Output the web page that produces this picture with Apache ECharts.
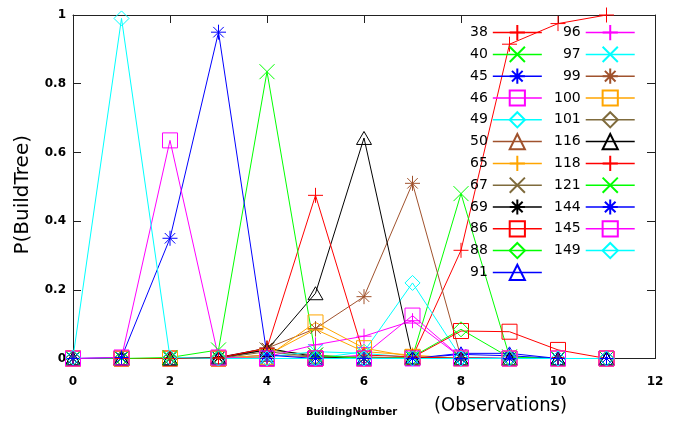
<!DOCTYPE html>
<html>
<head>
<meta charset="utf-8">
<script src="https://cdn.jsdelivr.net/npm/echarts@6/dist/echarts.min.js"></script>
<style>html,body{margin:0;padding:0;background:#fff}#c{width:684px;height:423px}</style>
</head>
<body>
<div id="c"></div>
<script>
// x positions (BuildingNumber observations)
const xValues = [0, 1, 2, 3, 4, 5, 6, 7, 8, 9, 10, 11];
const xTicks = [0, 2, 4, 6, 8, 10, 12];
const yTicks = [0, 0.2, 0.4, 0.6, 0.8, 1];

// series names (legend order)
const names = ['38','40','45','46','49','50','65','67','69','86','88','91',
               '96','97','99','100','101','116','118','121','144','145','149'];

// values per series, at x = 0..11
const s38  = [0, 0, 0, 0, 0, 0, 0, 0.005, 0.315, 0.915, 0.975, 1.0];
const s40  = [0, 0, 0, 0, 0, 0, 0, 0.005, 0.48, 0.005, 0, 0];
const s45  = [0, 0, 0, 0, 0, 0, 0, 0, 0.012, 0.008, 0, 0];
const s46  = [0, 0, 0, 0, 0, 0, 0.01, 0.125, 0.003, 0, 0, 0];
const s49  = [0, 0, 0, 0, 0, 0, 0.02, 0.22, 0.003, 0, 0, 0];
const s50  = [0, 0, 0, 0, 0.01, 0.005, 0, 0, 0, 0, 0, 0];
const s65  = [0, 0, 0, 0, 0.01, 0.085, 0.02, 0.01, 0, 0, 0, 0];
const s67  = [0, 0, 0, 0, 0.025, 0.01, 0, 0, 0, 0, 0, 0];
const s69  = [0, 0, 0, 0.003, 0.03, 0.005, 0, 0, 0, 0, 0, 0];
const s86  = [0, 0, 0, 0, 0, 0, 0, 0.003, 0.08, 0.078, 0.025, 0];
const s88  = [0, 0, 0, 0, 0, 0, 0, 0.005, 0.085, 0.003, 0, 0];
const s91  = [0, 0, 0, 0, 0, 0, 0, 0, 0.015, 0.015, 0, 0];
const s96  = [0, 0, 0, 0, 0.005, 0.04, 0.065, 0.11, 0.003, 0, 0, 0];
const s97  = [0, 0, 0, 0, 0.005, 0.02, 0.015, 0.003, 0, 0, 0, 0];
const s99  = [0, 0, 0, 0, 0.03, 0.087, 0.18, 0.51, 0.003, 0, 0, 0];
const s100 = [0, 0, 0, 0, 0.005, 0.105, 0.03, 0.005, 0, 0, 0, 0];
const s101 = [0, 0, 0, 0, 0.02, 0.005, 0.005, 0, 0, 0, 0, 0];
const s116 = [0, 0, 0, 0.003, 0.025, 0.19, 0.642, 0.003, 0, 0, 0, 0];
const s118 = [0, 0, 0, 0.002, 0.03, 0.475, 0.01, 0.005, 0, 0, 0, 0];
const s121 = [0, 0, 0.003, 0.025, 0.835, 0.01, 0, 0, 0, 0, 0, 0];
const s144 = [0, 0.003, 0.35, 0.95, 0.01, 0, 0, 0, 0, 0, 0, 0];
const s145 = [0, 0.003, 0.635, 0.003, 0, 0, 0, 0, 0, 0, 0, 0];
const s149 = [0.003, 0.99, 0.003, 0, 0, 0, 0, 0, 0, 0, 0, 0];

const values = [s38,s40,s45,s46,s49,s50,s65,s67,s69,s86,s88,s91,
                s96,s97,s99,s100,s101,s116,s118,s121,s144,s145,s149];

const colorCycle = ['#ff0000','#00ff00','#0000ff','#ff00ff','#00ffff','#a0522d','#ffa500','#7f6b3c','#000000'];
const symbolCycle = [
  'path://M5,0L5,10M0,5L10,5',
  'path://M0,0L10,10M10,0L0,10',
  'path://M5,0L5,10M0,5L10,5M1.5,1.5L8.5,8.5M8.5,1.5L1.5,8.5',
  'path://M0,0L10,0L10,10L0,10Z',
  'path://M5,0L10,5L5,10L0,5Z',
  'path://M5,0L10,8.66L0,8.66Z'
];

const series = names.map((n, i) => {
  const c = colorCycle[i % colorCycle.length];
  return {
    name: n,
    type: 'line',
    data: xValues.map((x, k) => [x, values[i][k]]),
    symbol: symbolCycle[i % symbolCycle.length],
    symbolSize: 15,
    symbolKeepAspect: true,
    showAllSymbol: true,
    animation: false,
    lineStyle: { color: c, width: 1 },
    itemStyle: { color: 'transparent', borderColor: c, borderWidth: 1 },
    emphasis: { disabled: true }
  };
});

const tickFont = { fontFamily: 'DejaVu Sans', fontWeight: 'bold', fontSize: 12, color: '#000' };
const frame = { show: true, onZero: false, lineStyle: { color: '#222', width: 1 } };
const ticks = { show: true, inside: true, length: 8, lineStyle: { color: '#222', width: 1 } };

const legendCommon = {
  orient: 'vertical', align: 'right', padding: 0,
  itemWidth: 49, itemHeight: 19, itemGap: 4.6,
  selectedMode: false,
  textStyle: { fontFamily: 'DejaVu Sans', fontSize: 14, color: '#000' },
  lineStyle: { width: 1.5 }
};

const option = {
  backgroundColor: '#fff',
  animation: false,
  title: [
    { text: 'BuildingNumber', left: 306, top: 407, padding: 0,
      textStyle: { fontFamily: 'DejaVu Sans', fontWeight: 'bold', fontSize: 10, color: '#000' } },
    { text: '(Observations)', left: 434, top: 396, padding: 0,
      textStyle: { fontFamily: 'DejaVu Sans Condensed, DejaVu Sans', fontWeight: 'normal', fontSize: 20, color: '#000' } }
  ],
  legend: [
    Object.assign({}, legendCommon, { data: names.slice(0, 12), left: 470, top: 24 }),
    Object.assign({}, legendCommon, { data: names.slice(12), left: 554, top: 24 })
  ],
  grid: { left: 73, right: 29, top: 15, bottom: 64.5 },
  xAxis: [
    { type: 'value', min: xTicks[0], max: xTicks[xTicks.length - 1], interval: 2, position: 'bottom',
      axisLine: frame, axisTick: ticks, splitLine: { show: false },
      axisLabel: Object.assign({ margin: 17 }, tickFont) },
    { type: 'value', min: xTicks[0], max: xTicks[xTicks.length - 1], interval: 2, position: 'top',
      axisLine: frame, axisTick: ticks, splitLine: { show: false }, axisLabel: { show: false } }
  ],
  yAxis: [
    { type: 'value', min: yTicks[0], max: yTicks[yTicks.length - 1], interval: 0.2, position: 'left',
      name: 'P(BuildTree)', nameLocation: 'middle', nameGap: 40, nameRotate: 90,
      nameTextStyle: { fontFamily: 'DejaVu Sans', fontSize: 20, color: '#000', padding: [0, 16, 0, 0] },
      axisLine: frame, axisTick: ticks, splitLine: { show: false },
      axisLabel: Object.assign({ margin: 7 }, tickFont) },
    { type: 'value', min: yTicks[0], max: yTicks[yTicks.length - 1], interval: 0.2, position: 'right',
      axisLine: frame, axisTick: ticks, splitLine: { show: false }, axisLabel: { show: false } }
  ],
  series: series
};

const chart = echarts.init(document.getElementById('c'), null, { renderer: 'canvas' });
chart.setOption(option);
</script>
</body>
</html>
